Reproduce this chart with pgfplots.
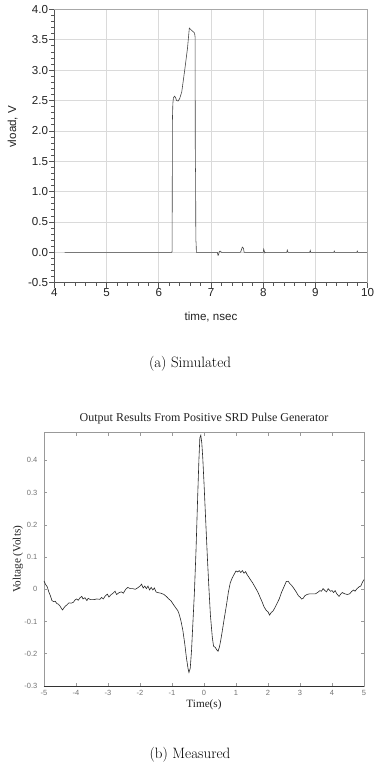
\documentclass[border=0pt]{standalone}
\usepackage{fontspec}
\usepackage{pgfplots}
\pgfplotsset{compat=1.18}
\newfontfamily\arialf{Liberation Sans}
\newfontfamily\tnrf{Liberation Serif}
\definecolor{gridc}{HTML}{DADADA}
\definecolor{boxc}{HTML}{A8A8A8}
\definecolor{axc}{HTML}{555555}
\definecolor{txtc}{HTML}{222222}
\definecolor{linec}{HTML}{444444}
\begin{document}
\begin{tikzpicture}
\path[use as bounding box] (0pt,0pt) rectangle (378pt,767pt);
% ---------- (a) Simulated ----------
\begin{axis}[
  at={(54.3pt,484.3pt)}, anchor=south west,
  scale only axis, width=313.4pt, height=273.4pt,
  xmin=4, xmax=10, ymin=-0.5, ymax=4.0,
  axis x line*=bottom, axis y line*=left,
  axis line style={axc, line width=0.8pt},
  xtick={4,5,...,10}, ytick={-0.5,0,0.5,...,4.0},
  minor x tick num=4, minor y tick num=4,
  tick align=outside,
  major tick length=5pt, minor tick length=3pt,
  tick style={axc, line width=0.6pt},
  grid=major, major grid style={gridc, line width=0.6pt},
  /pgf/number format/assume math mode=true,
  yticklabel style={/pgf/number format/.cd, fixed, fixed zerofill, precision=1},
  ticklabel style={font=\arialf\fontsize{11.6}{13}\selectfont, text=txtc, inner sep=1pt},
  xlabel={time, nsec}, ylabel={vload, V},
  every axis x label/.style={at={(rel axis cs:0.5,0)}, yshift=-34pt, anchor=center,
     font=\arialf\fontsize{11.6}{13}\selectfont, text=txtc},
  every axis y label/.style={at={(rel axis cs:0,0.57)}, xshift=-41.6pt, rotate=90, anchor=center,
     font=\arialf\fontsize{11.6}{13}\selectfont, text=txtc},
  clip=false,
]
\addplot[linec, line width=0.6pt] coordinates {
(4.20,0) (6.250,0) (6.255,0.02) (6.258,0.9) (6.262,2.2) (6.27,2.45) (6.28,2.54)
(6.30,2.57) (6.32,2.55) (6.34,2.50) (6.37,2.49) (6.40,2.53) (6.44,2.64)
(6.50,3.02) (6.55,3.36) (6.585,3.69) (6.62,3.66) (6.66,3.63) (6.685,3.61)
(6.695,3.55) (6.70,1.45) (6.705,1.3) (6.71,0.2) (6.715,0.15) (6.72,0.0)
(7.12,0.0) (7.135,-0.05) (7.145,-0.04) (7.16,0.015) (7.18,0.02) (7.20,0.0)
(7.56,0.0) (7.575,0.02) (7.60,0.085) (7.62,0.07) (7.635,0.0)
(8.00,0.0) (8.01,0.05) (8.02,0.02) (8.03,-0.01) (8.04,0.0)
(8.45,0.0) (8.46,0.035) (8.47,0.01) (8.48,0.0)
(8.89,0.0) (8.90,0.03) (8.91,0.0)
(9.35,0.0) (9.36,0.02) (9.37,0.0)
(9.79,0.0) (9.80,0.02) (9.81,0.0) (10.0,0.0)
};
\draw[boxc, line width=0.8pt] (rel axis cs:0,1) -- (rel axis cs:1,1) -- (rel axis cs:1,0);
\end{axis}
\node[font=\fontsize{15}{18}\selectfont] at (190pt,403.7pt) {(a) Simulated};
% ---------- (b) Measured ----------
\begin{axis}[
  at={(44pt,81pt)}, anchor=south west,
  scale only axis, width=320pt, height=253.3pt,
  xmin=-5, xmax=5, ymin=-0.3, ymax=0.486,
  axis line style={gray!80, line width=0.6pt},
  xtick={-5,-4,...,5}, ytick={-0.3,-0.2,...,0.4},
  xticklabels={-5,-4,-3,-2,-1,0,1,2,3,4,5},
  yticklabels={-0.3,-0.2,-0.1,0,0.1,0.2,0.3,0.4},
  tick align=inside, major tick length=3pt,
  tick style={gray!80, line width=0.6pt},
  xticklabel style={font=\arialf\fontsize{7.5}{8}\selectfont, text=gray!90!black, inner sep=0pt, anchor=north, yshift=-4.5pt},
  yticklabel style={font=\arialf\fontsize{7.5}{8}\selectfont, text=gray!90!black, inner sep=0pt, anchor=east, xshift=-6.5pt},
  title={Output Results From Positive SRD Pulse Generator},
  title style={font=\tnrf\fontsize{12}{14}\selectfont, text=txtc, at={(rel axis cs:0.5,1)}, yshift=7.7pt, anchor=center},
  xlabel={Time(s)}, ylabel={Voltage (Volts)},
  every axis x label/.style={at={(rel axis cs:0.5,0)}, yshift=-19pt, anchor=center,
     font=\tnrf\fontsize{11.2}{13}\selectfont, text=txtc},
  every axis y label/.style={at={(rel axis cs:0,0.5)}, xshift=-26pt, rotate=90, anchor=center,
     font=\tnrf\fontsize{11.2}{13}\selectfont, text=txtc},
  clip=false,
]
\addplot[black!85, line width=0.6pt] coordinates {
(-5.00,0.026) (-4.95,0.015) (-4.90,0.008) (-4.85,-0.008) (-4.80,-0.020) (-4.75,-0.035)
(-4.70,-0.038) (-4.65,-0.037) (-4.60,-0.044) (-4.55,-0.046) (-4.50,-0.052) (-4.45,-0.060)
(-4.42,-0.064) (-4.38,-0.058) (-4.33,-0.052) (-4.28,-0.048) (-4.22,-0.042) (-4.15,-0.043)
(-4.08,-0.040) (-4.03,-0.033) (-3.98,-0.030) (-3.93,-0.034) (-3.88,-0.027) (-3.82,-0.022)
(-3.78,-0.030) (-3.72,-0.026) (-3.66,-0.035) (-3.62,-0.028) (-3.55,-0.032) (-3.45,-0.032)
(-3.35,-0.030) (-3.25,-0.031) (-3.20,-0.025) (-3.15,-0.030) (-3.08,-0.020) (-3.02,-0.015)
(-2.97,-0.024) (-2.90,-0.016) (-2.85,-0.013) (-2.78,-0.006) (-2.73,-0.016) (-2.65,-0.010)
(-2.58,-0.008) (-2.52,-0.012) (-2.45,0.000) (-2.38,0.006) (-2.30,0.002) (-2.22,0.002)
(-2.15,0.000) (-2.08,0.004) (-2.00,0.010) (-1.95,0.016) (-1.90,0.004) (-1.85,0.010)
(-1.80,0.002) (-1.75,0.010) (-1.70,-0.002) (-1.65,0.006) (-1.60,-0.002) (-1.55,0.004)
(-1.50,-0.008) (-1.45,-0.010) (-1.35,-0.012) (-1.25,-0.016) (-1.18,-0.022) (-1.10,-0.030)
(-1.03,-0.036) (-0.95,-0.048) (-0.88,-0.058) (-0.82,-0.066) (-0.78,-0.076) (-0.72,-0.098)
(-0.66,-0.128) (-0.60,-0.170) (-0.55,-0.212) (-0.50,-0.245) (-0.47,-0.258) (-0.43,-0.245)
(-0.39,-0.190) (-0.35,-0.110) (-0.30,-0.010) (-0.25,0.120) (-0.20,0.280) (-0.16,0.400)
(-0.13,0.470) (-0.10,0.478) (-0.07,0.455) (-0.04,0.410) (0.00,0.330) (0.05,0.220)
(0.10,0.110) (0.15,0.010) (0.20,-0.080) (0.26,-0.150) (0.30,-0.177) (0.35,-0.180)
(0.40,-0.188) (0.44,-0.192) (0.48,-0.180) (0.52,-0.160) (0.57,-0.130) (0.63,-0.092)
(0.70,-0.050) (0.76,-0.010) (0.82,0.020) (0.88,0.035) (0.95,0.048) (1.00,0.057)
(1.05,0.054) (1.10,0.058) (1.15,0.052) (1.20,0.058) (1.25,0.050) (1.30,0.055)
(1.35,0.045) (1.40,0.038) (1.45,0.030) (1.52,0.020) (1.60,0.006) (1.68,-0.008)
(1.75,-0.024) (1.82,-0.040) (1.88,-0.055) (1.95,-0.066) (2.00,-0.070) (2.05,-0.080)
(2.10,-0.072) (2.15,-0.068) (2.20,-0.060) (2.28,-0.044) (2.35,-0.030) (2.42,-0.010)
(2.50,0.008) (2.57,0.024) (2.63,0.025) (2.68,0.018) (2.74,0.012) (2.80,0.004)
(2.88,-0.008) (2.95,-0.020) (3.00,-0.024) (3.05,-0.030) (3.10,-0.028) (3.15,-0.020)
(3.22,-0.016) (3.30,-0.014) (3.40,-0.014) (3.48,-0.014) (3.55,-0.010) (3.62,-0.004)
(3.67,-0.006) (3.72,0.002) (3.78,-0.004) (3.83,-0.008) (3.88,0.002) (3.95,-0.006)
(4.00,-0.004) (4.05,-0.010) (4.10,-0.004) (4.15,-0.014) (4.22,-0.022) (4.27,-0.015)
(4.32,-0.010) (4.40,-0.014) (4.48,-0.016) (4.55,-0.014) (4.62,-0.006) (4.68,-0.002)
(4.72,-0.006) (4.78,0.002) (4.85,0.008) (4.90,0.010) (4.95,0.022) (5.00,0.030)
};
\draw[black!80, line width=0.9pt] (rel axis cs:0,0) -- (rel axis cs:1,0);
\end{axis}
\node[font=\fontsize{15}{18}\selectfont] at (190pt,12pt) {(b) Measured};
\end{tikzpicture}
\end{document}
